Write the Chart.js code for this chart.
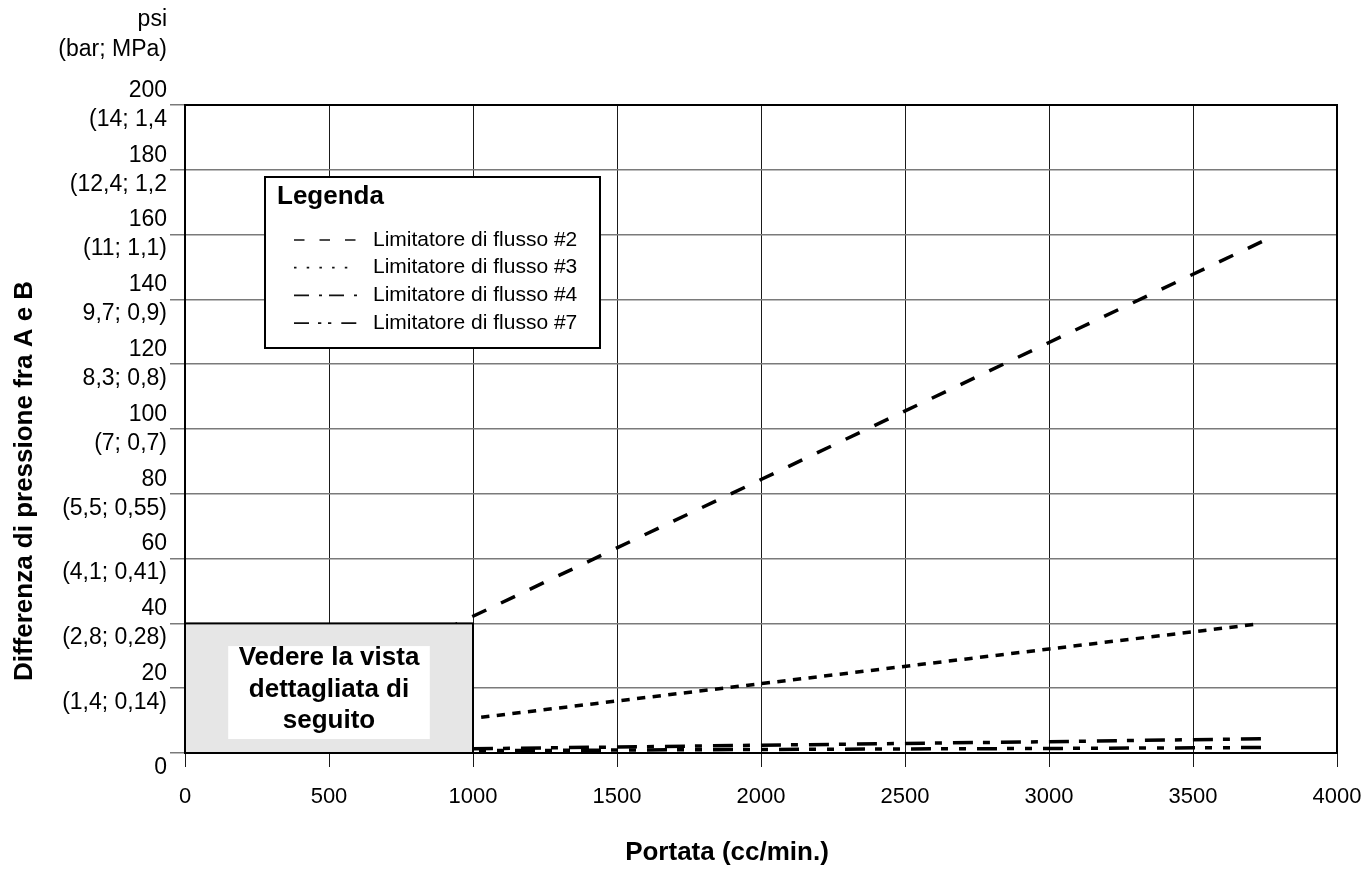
<!DOCTYPE html>
<html lang="it">
<head>
<meta charset="UTF-8">
<title>Differenza di pressione fra A e B</title>
<script src="https://cdn.jsdelivr.net/npm/chart.js"></script>
<style>
  body { margin: 0; background: #fff; }
  #wrap { position: relative; width: 1369px; height: 870px; }
</style>
</head>
<body>
<div id="wrap"><canvas id="chart"></canvas></div>
<script>
// portata (cc/min) e differenza di pressione (psi)
const flow2 = [0, 1000, 2000, 3000, 3760];
const dp2 = [0, 42.2, 84.4, 126.7, 158.7];
const flow3 = [0, 1000, 2000, 3000, 3725];
const dp3 = [0, 10.7, 21.4, 32.1, 39.8];
const flow4 = [0, 1000, 2000, 3000, 3740];
const dp4 = [0, 1.3, 2.4, 3.5, 4.4];
const flow7 = [0, 1000, 2000, 3000, 3750];
const dp7 = [0, 0.7, 1.1, 1.4, 1.7];

const seriesLabels = ['Limitatore di flusso #2', 'Limitatore di flusso #3', 'Limitatore di flusso #4', 'Limitatore di flusso #7'];

const yTickPsi = ['0', '20', '40', '60', '80', '100', '120', '140', '160', '180', '200'];
const yTickMetric = ['', '(1,4; 0,14)', '(2,8; 0,28)', '(4,1; 0,41)', '(5,5; 0,55)', '(7; 0,7)',
  '8,3; 0,8)', '9,7; 0,9)', '(11; 1,1)', '(12,4; 1,2', '(14; 1,4'];
const unitLines = ['psi', '(bar; MPa)'];

const xTitle = 'Portata (cc/min.)';
const yTitle = 'Differenza di pressione fra A e B';

// zona coperta dal riquadro grigio
const detailFlow = [0, 1000];
const detailDp = [0, 40];
const detailText = ['Vedere la vista', 'dettagliata di', 'seguito'];

const FONT = '"Liberation Sans", Arial, sans-serif';

function pts(xs, ys) {
  return xs.map((v, i) => ({ x: v, y: ys[i] }));
}

const overlay = {
  id: 'overlay',
  afterDatasetsDraw(chart) {
    const { ctx, scales: { x, y } } = chart;
    const l = x.getPixelForValue(detailFlow[0]);
    const r = x.getPixelForValue(detailFlow[1]);
    const t = y.getPixelForValue(detailDp[1]);
    const b = y.getPixelForValue(detailDp[0]);
    ctx.save();
    ctx.fillStyle = '#e6e6e6';
    ctx.fillRect(l, t, r - l, b - t);
    ctx.lineWidth = 2;
    ctx.strokeStyle = '#000';
    ctx.strokeRect(l, t, r - l, b - t);

    // fondo bianco del testo
    const wl = x.getPixelForValue(150), wr = x.getPixelForValue(850);
    const wt = y.getPixelForValue(33), wb = y.getPixelForValue(4.3);
    ctx.fillStyle = '#fff';
    ctx.fillRect(wl, wt, wr - wl, wb - wt);

    ctx.fillStyle = '#000';
    ctx.font = 'bold 26px ' + FONT;
    ctx.textAlign = 'center';
    ctx.textBaseline = 'alphabetic';
    detailText.forEach((s, i) => ctx.fillText(s, (l + r) / 2, t + 42 + i * 31.5));
    ctx.restore();
  },
  afterDraw(chart) {
    const { ctx, chartArea: a } = chart;
    ctx.save();
    ctx.strokeStyle = '#000';
    ctx.lineWidth = 2;
    ctx.strokeRect(a.left, a.top, a.right - a.left, a.bottom - a.top);

    // legenda
    const lx = a.left + 80, ly = a.top + 72, lw = 335, lh = 171;
    ctx.fillStyle = '#fff';
    ctx.fillRect(lx, ly, lw, lh);
    ctx.strokeRect(lx, ly, lw, lh);
    ctx.fillStyle = '#000';
    ctx.textAlign = 'left';
    ctx.textBaseline = 'middle';
    ctx.font = 'bold 26px ' + FONT;
    ctx.fillText('Legenda', lx + 12, ly + 20);
    ctx.font = '21px ' + FONT;
    chart.data.datasets.forEach((ds, i) => {
      const yy = ly + 63 + i * 27.7;
      ctx.beginPath();
      ctx.setLineDash(ds.legendDash);
      ctx.lineWidth = 1.7;
      ctx.strokeStyle = '#111';
      ctx.moveTo(lx + 29, yy);
      ctx.lineTo(lx + 92, yy);
      ctx.stroke();
      ctx.setLineDash([]);
      ctx.fillText(ds.label, lx + 108, yy);
    });

    // unità asse y
    ctx.font = '23px ' + FONT;
    ctx.textAlign = 'right';
    ctx.fillText(unitLines[0], a.left - 18, 20);
    ctx.fillText(unitLines[1], a.left - 18, 50);

    // titoli assi
    ctx.font = 'bold 26px ' + FONT;
    ctx.textAlign = 'center';
    ctx.textBaseline = 'alphabetic';
    ctx.fillText(xTitle, 727, 860);
    ctx.translate(32, 481);
    ctx.rotate(-Math.PI / 2);
    ctx.fillText(yTitle, 0, 0);
    ctx.restore();
  }
};

new Chart(document.getElementById('chart'), {
  type: 'line',
  data: {
    datasets: [
      { label: seriesLabels[0], data: pts(flow2, dp2), borderDash: [15.5, 16.3], legendDash: [10.5, 15] },
      { label: seriesLabels[1], data: pts(flow3, dp3), borderDash: [8.3, 7.4], legendDash: [2.5, 10.2] },
      { label: seriesLabels[2], data: pts(flow4, dp4), borderDash: [20, 10, 7, 11], legendDash: [15, 10, 3, 7] },
      { label: seriesLabels[3], data: pts(flow7, dp7), borderDash: [20, 10, 7, 11, 7, 11], legendDash: [15, 9, 3.3, 6.7, 3.3, 10] }
    ].map(d => Object.assign(d, {
      borderColor: '#000',
      borderWidth: 3.5,
      pointRadius: 0,
      tension: 0,
      fill: false,
      borderCapStyle: 'butt'
    }))
  },
  options: {
    responsive: true,
    maintainAspectRatio: false,
    animation: false,
    layout: { padding: { top: 105, right: 32, left: 0, bottom: 0 } },
    plugins: {
      legend: { display: false },
      tooltip: { enabled: false }
    },
    scales: {
      x: {
        type: 'linear',
        min: 0,
        max: 4000,
        afterFit: s => {
          s.height = 117;
          s.paddingLeft = 0;
          s.paddingRight = 0;
        },
        border: { display: false },
        grid: { color: '#1a1a1a', lineWidth: 1, tickLength: 14, tickColor: '#1a1a1a' },
        ticks: {
          stepSize: 500,
          padding: 17,
          color: '#000',
          font: { family: FONT, size: 22 },
          maxRotation: 0,
          callback: v => String(v)
        }
      },
      y: {
        min: 0,
        max: 200,
        afterFit: s => { s.width = 185; },
        border: { display: false },
        grid: { color: '#7a7a7a', lineWidth: 1.5, tickLength: 15, tickColor: '#7a7a7a' },
        ticks: {
          stepSize: 20,
          autoSkip: false,
          padding: 3,
          color: '#000',
          font: { family: FONT, size: 23, lineHeight: 1.26 },
          callback: v => {
            const i = yTickPsi.indexOf(String(v));
            return i === 0 ? ['', yTickPsi[0]] : [yTickPsi[i], yTickMetric[i]];
          }
        }
      }
    }
  },
  plugins: [overlay]
});
</script>
</body>
</html>
